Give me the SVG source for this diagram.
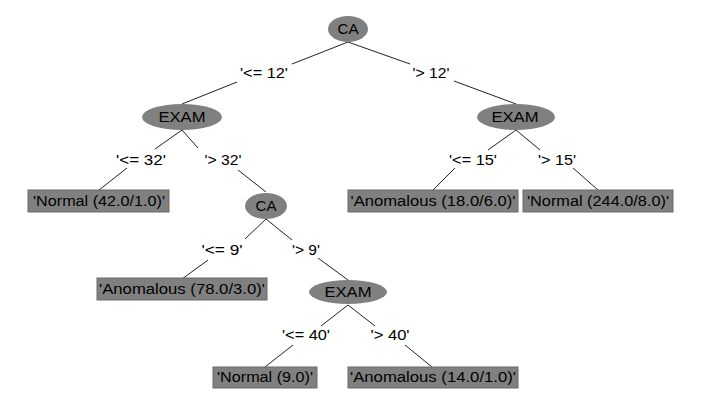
<svg xmlns="http://www.w3.org/2000/svg" width="703" height="404" viewBox="0 0 703 404">
<style>
.n{fill:#808080;stroke:none}
.l{fill:#808080;stroke:#6a6a6a;stroke-width:1}
.t{font-family:"Liberation Sans",Arial,sans-serif;font-size:14px;fill:#000;text-anchor:middle}
.c line{stroke:#222;stroke-width:1}
</style>
<rect width="703" height="404" fill="#fff"/>
<g class="c" id="connectors">
<line x1="348" y1="42" x2="292" y2="64"/>
<line x1="237" y1="82" x2="182" y2="104"/>
<line x1="348" y1="42" x2="410" y2="64"/>
<line x1="454" y1="81" x2="516" y2="104"/>
<line x1="182" y1="130" x2="155" y2="149"/>
<line x1="182" y1="130" x2="198" y2="148"/>
<line x1="127" y1="168" x2="99" y2="190"/>
<line x1="238" y1="170" x2="266" y2="192"/>
<line x1="516" y1="130" x2="488" y2="150"/>
<line x1="516" y1="130" x2="540" y2="150"/>
<line x1="455" y1="168" x2="433" y2="190"/>
<line x1="573" y1="168" x2="598" y2="190"/>
<line x1="266" y1="219" x2="245" y2="239"/>
<line x1="266" y1="219" x2="292" y2="240"/>
<line x1="208" y1="260" x2="182" y2="279"/>
<line x1="318" y1="258" x2="348" y2="280"/>
<line x1="348" y1="305" x2="321" y2="326"/>
<line x1="348" y1="305" x2="375" y2="326"/>
<line x1="293" y1="345" x2="265" y2="367"/>
<line x1="405" y1="345" x2="432" y2="367"/>
</g>
<g id="edge-labels">
<text class="t" x="264" y="78" textLength="48" lengthAdjust="spacingAndGlyphs">'&lt;= 12'</text>
<text class="t" x="431" y="78" textLength="37" lengthAdjust="spacingAndGlyphs">'&gt; 12'</text>
<text class="t" x="141" y="165" textLength="50" lengthAdjust="spacingAndGlyphs">'&lt;= 32'</text>
<text class="t" x="223" y="165" textLength="37" lengthAdjust="spacingAndGlyphs">'&gt; 32'</text>
<text class="t" x="473" y="165" textLength="48" lengthAdjust="spacingAndGlyphs">'&lt;= 15'</text>
<text class="t" x="557" y="165" textLength="38" lengthAdjust="spacingAndGlyphs">'&gt; 15'</text>
<text class="t" x="222" y="255" textLength="41" lengthAdjust="spacingAndGlyphs">'&lt;= 9'</text>
<text class="t" x="306" y="255" textLength="28" lengthAdjust="spacingAndGlyphs">'&gt; 9'</text>
<text class="t" x="306" y="340" textLength="48" lengthAdjust="spacingAndGlyphs">'&lt;= 40'</text>
<text class="t" x="390" y="340" textLength="39" lengthAdjust="spacingAndGlyphs">'&gt; 40'</text>
</g>
<g id="root-ca"><ellipse class="n" cx="348" cy="29" rx="20" ry="13"/><text class="t" x="348" y="34" textLength="21" lengthAdjust="spacingAndGlyphs">CA</text></g>
<g id="exam-left"><ellipse class="n" cx="182" cy="117" rx="40" ry="13"/><text class="t" x="182" y="122" textLength="47" lengthAdjust="spacingAndGlyphs">EXAM</text></g>
<g id="exam-right"><ellipse class="n" cx="516" cy="117" rx="39" ry="13"/><text class="t" x="515" y="122" textLength="47" lengthAdjust="spacingAndGlyphs">EXAM</text></g>
<g id="ca-2"><ellipse class="n" cx="266" cy="206" rx="21" ry="13"/><text class="t" x="266" y="211" textLength="21" lengthAdjust="spacingAndGlyphs">CA</text></g>
<g id="exam-3"><ellipse class="n" cx="348" cy="292" rx="39" ry="12"/><text class="t" x="348" y="297" textLength="47" lengthAdjust="spacingAndGlyphs">EXAM</text></g>
<g id="leaf-normal-42"><rect class="l" x="28" y="190" width="141" height="22"/><text class="t" x="99" y="206" textLength="132" lengthAdjust="spacingAndGlyphs">'Normal (42.0/1.0)'</text></g>
<g id="leaf-anom-18"><rect class="l" x="348" y="190" width="170" height="22"/><text class="t" x="433" y="206" textLength="165" lengthAdjust="spacingAndGlyphs">'Anomalous (18.0/6.0)'</text></g>
<g id="leaf-normal-244"><rect class="l" x="523" y="190" width="150" height="22"/><text class="t" x="598" y="206" textLength="142" lengthAdjust="spacingAndGlyphs">'Normal (244.0/8.0)'</text></g>
<g id="leaf-anom-78"><rect class="l" x="97" y="278" width="170" height="22"/><text class="t" x="182" y="294" textLength="166" lengthAdjust="spacingAndGlyphs">'Anomalous (78.0/3.0)'</text></g>
<g id="leaf-normal-9"><rect class="l" x="213" y="367" width="104" height="21"/><text class="t" x="265" y="382" textLength="96" lengthAdjust="spacingAndGlyphs">'Normal (9.0)'</text></g>
<g id="leaf-anom-14"><rect class="l" x="348" y="367" width="170" height="21"/><text class="t" x="433" y="382" textLength="166" lengthAdjust="spacingAndGlyphs">'Anomalous (14.0/1.0)'</text></g>
</svg>
